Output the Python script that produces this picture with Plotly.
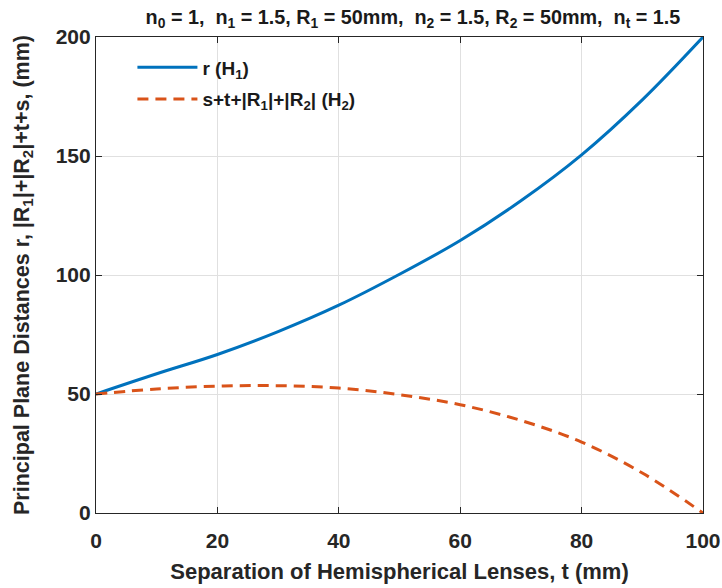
import plotly.graph_objects as go

t_vals = [0, 10, 20, 30, 40, 50, 60, 70, 80, 90, 100]
r_H1 = [50, 58.5, 66.6, 76.2, 87.3, 100.3, 114.5, 131.2, 150.5, 173.6, 200]
s_H2 = [50, 52.1, 53.3, 53.5, 52.5, 49.7, 45.5, 38.9, 29.8, 16.8, 0]

x_ticks = [0, 20, 40, 60, 80, 100]
y_ticks = [0, 50, 100, 150, 200]

font_family = "Liberation Sans, Arial, sans-serif"
txt = "#262626"

fig = go.Figure()
fig.add_trace(go.Scatter(
    x=t_vals, y=r_H1, mode="lines", line_shape="spline",
    name="<b>r (H<sub>1</sub>)</b>", legendgroup="a",
    line=dict(color="#0072BD", width=3),
))
fig.add_trace(go.Scatter(
    x=t_vals, y=s_H2, mode="lines", line_shape="spline",
    name="<b>s+t+|R<sub>1</sub>|+|R<sub>2</sub>| (H<sub>2</sub>)</b>", legendgroup="b",
    line=dict(color="#D95319", width=3, dash="11px,7px"),
))

axis_common = dict(
    showline=True, linecolor=txt, linewidth=1.2, mirror="ticks",
    ticks="inside", ticklen=6, tickcolor=txt,
    showgrid=True, gridcolor="#E0E0E0", gridwidth=1,
    zeroline=False,
    tickfont=dict(family=font_family, size=21, color=txt, weight="bold"),
    automargin=False,
)

fig.update_layout(
    width=722, height=588,
    margin=dict(l=96, r=19, t=37, b=75, autoexpand=False),
    paper_bgcolor="white", plot_bgcolor="white",
    font=dict(family=font_family, color=txt),
    title=dict(
        text="<b>n<sub>0</sub> = 1,  n<sub>1</sub> = 1.5, R<sub>1</sub> = 50mm,  n<sub>2</sub> = 1.5, R<sub>2</sub> = 50mm,  n<sub>t</sub> = 1.5</b>",
        x=0.572, xanchor="center", y=0.971, yanchor="middle",
        font=dict(family=font_family, size=19.8, color="#1a1a1a"),
    ),
    xaxis=dict(
        range=[0, 100], tickvals=x_ticks, ticklabelstandoff=9,
        title=dict(text="<b>Separation of Hemispherical Lenses, t (mm)</b>",
                   font=dict(family=font_family, size=22, color=txt), standoff=12),
        **axis_common,
    ),
    yaxis=dict(
        range=[0, 200], tickvals=y_ticks,
        title=dict(text="<b>Principal Plane Distances r, |R<sub>1</sub>|+|R<sub>2</sub>|+t+s, (mm)</b>",
                   font=dict(family=font_family, size=21.5, color=txt), standoff=20),
        **axis_common,
    ),
    legend=dict(
        x=0.06, y=0.976, xanchor="left", yanchor="top",
        bgcolor="rgba(255,255,255,0)", borderwidth=0,
        font=dict(family=font_family, size=19, color="#1a1a1a"),
        tracegroupgap=4, itemwidth=60,
    ),
)

fig.write_html("out.html")
